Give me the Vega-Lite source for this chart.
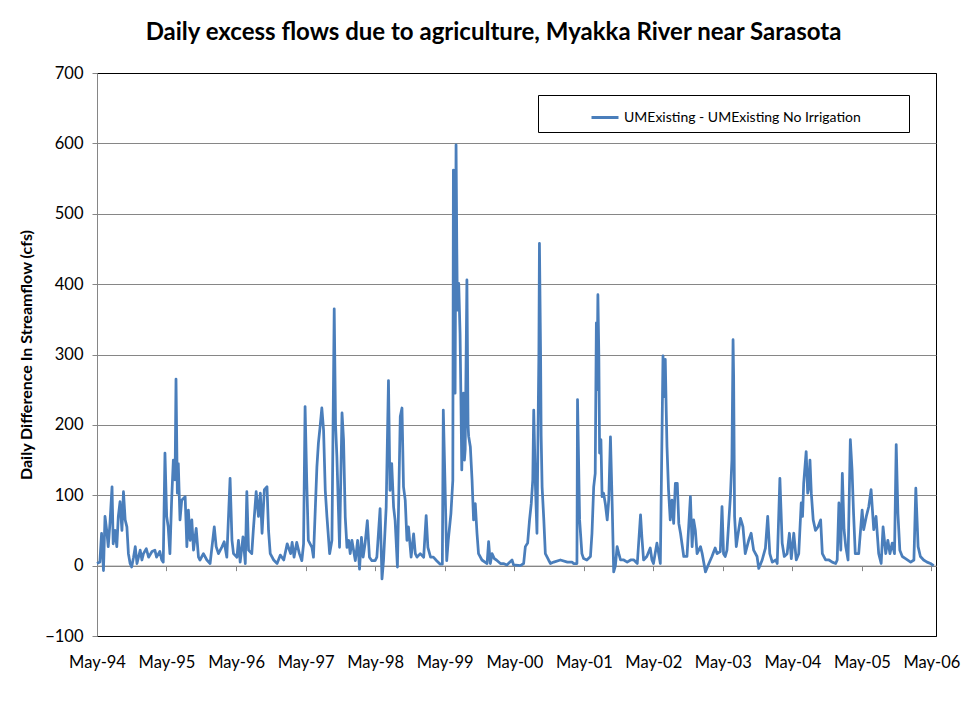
{
"$schema": "https://vega.github.io/schema/vega-lite/v6.json",
"width": 839, "height": 563,
"autosize": {"type": "none"},
"padding": {"left": 97, "top": 73, "right": 31, "bottom": 70},
"background": "white",
"config": {"font": "Lato", "view": {"stroke": "black", "strokeWidth": 1}},
"title": {"text": "Daily excess flows due to agriculture, Myakka River near Sarasota", "fontSize": 24, "fontWeight": "bold", "font": "Lato", "color": "black", "anchor": "middle", "dx": -23, "offset": 20},
"data": {"values": [
{"date":"1994-05-01","flow":3},{"date":"1994-05-16","flow":5},{"date":"1994-05-25","flow":46},{"date":"1994-06-04","flow":-7},{"date":"1994-06-12","flow":70},{"date":"1994-06-21","flow":50},{"date":"1994-06-29","flow":27},{"date":"1994-07-08","flow":60},{"date":"1994-07-19","flow":112},{"date":"1994-07-25","flow":31},{"date":"1994-08-04","flow":50},{"date":"1994-08-13","flow":27},{"date":"1994-08-21","flow":70},{"date":"1994-08-30","flow":91},{"date":"1994-09-09","flow":50},{"date":"1994-09-17","flow":105},{"date":"1994-09-26","flow":65},{"date":"1994-10-05","flow":55},{"date":"1994-10-13","flow":17},{"date":"1994-10-22","flow":3},{"date":"1994-10-30","flow":-2},{"date":"1994-11-09","flow":12},{"date":"1994-11-18","flow":27},{"date":"1994-11-27","flow":3},{"date":"1994-12-14","flow":22},{"date":"1994-12-23","flow":8},{"date":"1994-12-31","flow":17},
{"date":"1995-01-15","flow":24},{"date":"1995-01-27","flow":12},{"date":"1995-02-14","flow":20},{"date":"1995-03-01","flow":22},{"date":"1995-03-10","flow":12},{"date":"1995-03-27","flow":20},{"date":"1995-04-06","flow":8},{"date":"1995-04-14","flow":5},{"date":"1995-04-23","flow":160},{"date":"1995-05-02","flow":70},{"date":"1995-05-10","flow":55},{"date":"1995-05-19","flow":17},{"date":"1995-05-28","flow":93},{"date":"1995-06-06","flow":150},{"date":"1995-06-15","flow":122},{"date":"1995-06-20","flow":265},{"date":"1995-06-27","flow":103},{"date":"1995-07-02","flow":145},{"date":"1995-07-11","flow":65},{"date":"1995-07-20","flow":93},{"date":"1995-08-07","flow":98},{"date":"1995-08-16","flow":27},{"date":"1995-08-24","flow":79},{"date":"1995-09-02","flow":36},{"date":"1995-09-11","flow":65},{"date":"1995-09-20","flow":22},{"date":"1995-10-04","flow":53},{"date":"1995-10-16","flow":12},{"date":"1995-10-24","flow":8},{"date":"1995-11-11","flow":17},{"date":"1995-11-29","flow":8},{"date":"1995-12-16","flow":3},
{"date":"1996-01-07","flow":55},{"date":"1996-01-17","flow":27},{"date":"1996-01-29","flow":17},{"date":"1996-02-17","flow":27},{"date":"1996-02-28","flow":34},{"date":"1996-03-13","flow":12},{"date":"1996-03-30","flow":124},{"date":"1996-04-09","flow":36},{"date":"1996-04-17","flow":17},{"date":"1996-05-05","flow":12},{"date":"1996-05-13","flow":36},{"date":"1996-05-22","flow":5},{"date":"1996-06-06","flow":41},{"date":"1996-06-18","flow":3},{"date":"1996-06-26","flow":105},{"date":"1996-07-05","flow":22},{"date":"1996-07-22","flow":17},{"date":"1996-07-30","flow":50},{"date":"1996-08-14","flow":105},{"date":"1996-08-26","flow":70},{"date":"1996-09-05","flow":103},{"date":"1996-09-14","flow":46},{"date":"1996-09-26","flow":108},{"date":"1996-10-10","flow":112},{"date":"1996-10-18","flow":50},{"date":"1996-10-27","flow":17},{"date":"1996-11-14","flow":8},{"date":"1996-12-02","flow":3},{"date":"1996-12-19","flow":15},
{"date":"1997-01-06","flow":8},{"date":"1997-01-24","flow":31},{"date":"1997-02-11","flow":17},{"date":"1997-02-19","flow":33},{"date":"1997-03-01","flow":12},{"date":"1997-03-15","flow":33},{"date":"1997-03-29","flow":17},{"date":"1997-04-11","flow":7},{"date":"1997-04-20","flow":31},{"date":"1997-04-28","flow":226},{"date":"1997-05-07","flow":117},{"date":"1997-05-15","flow":36},{"date":"1997-06-03","flow":26},{"date":"1997-06-11","flow":12},{"date":"1997-06-29","flow":140},{"date":"1997-07-07","flow":174},{"date":"1997-07-16","flow":198},{"date":"1997-07-25","flow":224},{"date":"1997-08-03","flow":193},{"date":"1997-08-12","flow":107},{"date":"1997-08-21","flow":69},{"date":"1997-09-04","flow":17},{"date":"1997-09-16","flow":36},{"date":"1997-09-28","flow":365},{"date":"1997-10-05","flow":200},{"date":"1997-10-12","flow":155},{"date":"1997-10-26","flow":26},{"date":"1997-11-08","flow":217},{"date":"1997-11-16","flow":179},{"date":"1997-11-25","flow":69},{"date":"1997-12-04","flow":26},{"date":"1997-12-13","flow":36},{"date":"1997-12-21","flow":17},{"date":"1997-12-30","flow":36},
{"date":"1998-01-17","flow":7},{"date":"1998-01-29","flow":36},{"date":"1998-02-08","flow":-5},{"date":"1998-02-18","flow":40},{"date":"1998-02-27","flow":12},{"date":"1998-03-09","flow":31},{"date":"1998-03-21","flow":64},{"date":"1998-04-01","flow":12},{"date":"1998-04-14","flow":7},{"date":"1998-05-01","flow":7},{"date":"1998-05-10","flow":12},{"date":"1998-05-27","flow":81},{"date":"1998-06-06","flow":-19},{"date":"1998-06-14","flow":7},{"date":"1998-06-28","flow":83},{"date":"1998-07-10","flow":263},{"date":"1998-07-18","flow":107},{"date":"1998-07-27","flow":145},{"date":"1998-08-06","flow":83},{"date":"1998-08-14","flow":64},{"date":"1998-08-26","flow":-2},{"date":"1998-09-10","flow":212},{"date":"1998-09-19","flow":224},{"date":"1998-09-27","flow":112},{"date":"1998-10-06","flow":93},{"date":"1998-10-15","flow":36},{"date":"1998-10-23","flow":55},{"date":"1998-11-06","flow":12},{"date":"1998-11-19","flow":45},{"date":"1998-11-28","flow":17},{"date":"1998-12-07","flow":12},{"date":"1998-12-24","flow":17},
{"date":"1999-01-11","flow":12},{"date":"1999-01-24","flow":71},{"date":"1999-02-02","flow":26},{"date":"1999-02-16","flow":12},{"date":"1999-03-03","flow":12},{"date":"1999-03-20","flow":7},{"date":"1999-04-08","flow":2},{"date":"1999-04-19","flow":2},{"date":"1999-04-24","flow":221},{"date":"1999-05-03","flow":117},{"date":"1999-05-12","flow":7},{"date":"1999-05-20","flow":36},{"date":"1999-06-03","flow":74},{"date":"1999-06-13","flow":121},{"date":"1999-06-16","flow":562},{"date":"1999-06-21","flow":300},{"date":"1999-06-25","flow":245},{"date":"1999-06-30","flow":598},{"date":"1999-07-04","flow":450},{"date":"1999-07-07","flow":363},{"date":"1999-07-14","flow":401},{"date":"1999-07-21","flow":330},{"date":"1999-07-25","flow":250},{"date":"1999-07-30","flow":136},{"date":"1999-08-05","flow":220},{"date":"1999-08-08","flow":245},{"date":"1999-08-13","flow":150},{"date":"1999-08-17","flow":165},{"date":"1999-08-26","flow":406},{"date":"1999-09-01","flow":200},{"date":"1999-09-04","flow":184},{"date":"1999-09-13","flow":169},{"date":"1999-09-22","flow":122},{"date":"1999-09-30","flow":65},{"date":"1999-10-09","flow":88},{"date":"1999-10-18","flow":46},{"date":"1999-10-26","flow":17},{"date":"1999-11-13","flow":8},{"date":"1999-12-10","flow":3},{"date":"1999-12-18","flow":34},{"date":"1999-12-27","flow":3},
{"date":"2000-01-05","flow":17},{"date":"2000-01-17","flow":10},{"date":"2000-01-28","flow":8},{"date":"2000-02-18","flow":3},{"date":"2000-03-05","flow":3},{"date":"2000-03-23","flow":1},{"date":"2000-04-19","flow":8},{"date":"2000-04-27","flow":1},{"date":"2000-06-02","flow":0},{"date":"2000-06-19","flow":3},{"date":"2000-06-28","flow":27},{"date":"2000-07-10","flow":32},{"date":"2000-07-20","flow":65},{"date":"2000-07-29","flow":88},{"date":"2000-08-06","flow":122},{"date":"2000-08-11","flow":221},{"date":"2000-08-20","flow":113},{"date":"2000-08-28","flow":46},{"date":"2000-09-04","flow":226},{"date":"2000-09-07","flow":300},{"date":"2000-09-10","flow":458},{"date":"2000-09-16","flow":300},{"date":"2000-09-19","flow":184},{"date":"2000-09-24","flow":112},{"date":"2000-10-03","flow":65},{"date":"2000-10-11","flow":17},{"date":"2000-10-28","flow":8},{"date":"2000-11-07","flow":3},{"date":"2000-11-24","flow":5},{"date":"2000-12-29","flow":8},
{"date":"2001-02-04","flow":5},{"date":"2001-02-28","flow":5},{"date":"2001-03-08","flow":3},{"date":"2001-03-26","flow":3},{"date":"2001-03-29","flow":236},{"date":"2001-04-09","flow":65},{"date":"2001-04-21","flow":17},{"date":"2001-04-30","flow":10},{"date":"2001-05-17","flow":8},{"date":"2001-06-05","flow":13},{"date":"2001-06-13","flow":46},{"date":"2001-06-22","flow":112},{"date":"2001-06-30","flow":131},{"date":"2001-07-06","flow":345},{"date":"2001-07-09","flow":250},{"date":"2001-07-14","flow":385},{"date":"2001-07-19","flow":300},{"date":"2001-07-23","flow":160},{"date":"2001-07-30","flow":179},{"date":"2001-08-05","flow":98},{"date":"2001-08-13","flow":103},{"date":"2001-08-22","flow":88},{"date":"2001-09-01","flow":65},{"date":"2001-09-09","flow":93},{"date":"2001-09-18","flow":183},{"date":"2001-09-27","flow":88},{"date":"2001-10-05","flow":-9},{"date":"2001-10-14","flow":0},{"date":"2001-10-23","flow":27},{"date":"2001-11-01","flow":17},{"date":"2001-11-10","flow":8},{"date":"2001-11-27","flow":8},{"date":"2001-12-15","flow":5},
{"date":"2002-01-02","flow":8},{"date":"2002-01-19","flow":8},{"date":"2002-02-06","flow":3},{"date":"2002-02-23","flow":72},{"date":"2002-03-02","flow":41},{"date":"2002-03-11","flow":8},{"date":"2002-03-28","flow":13},{"date":"2002-04-15","flow":25},{"date":"2002-04-24","flow":8},{"date":"2002-05-02","flow":3},{"date":"2002-05-20","flow":32},{"date":"2002-06-07","flow":3},{"date":"2002-06-21","flow":298},{"date":"2002-06-28","flow":240},{"date":"2002-07-03","flow":293},{"date":"2002-07-08","flow":220},{"date":"2002-07-12","flow":169},{"date":"2002-07-20","flow":108},{"date":"2002-07-29","flow":65},{"date":"2002-08-07","flow":93},{"date":"2002-08-16","flow":60},{"date":"2002-08-25","flow":117},{"date":"2002-09-04","flow":117},{"date":"2002-09-12","flow":60},{"date":"2002-09-21","flow":46},{"date":"2002-10-08","flow":13},{"date":"2002-10-25","flow":13},{"date":"2002-11-12","flow":98},{"date":"2002-11-21","flow":27},{"date":"2002-11-29","flow":65},{"date":"2002-12-08","flow":50},{"date":"2002-12-17","flow":17},
{"date":"2003-01-04","flow":27},{"date":"2003-01-13","flow":17},{"date":"2003-01-30","flow":-9},{"date":"2003-02-17","flow":3},{"date":"2003-03-05","flow":13},{"date":"2003-03-22","flow":25},{"date":"2003-04-01","flow":17},{"date":"2003-04-18","flow":20},{"date":"2003-04-27","flow":84},{"date":"2003-05-05","flow":17},{"date":"2003-05-14","flow":13},{"date":"2003-05-23","flow":22},{"date":"2003-06-01","flow":60},{"date":"2003-06-10","flow":98},{"date":"2003-06-18","flow":150},{"date":"2003-06-24","flow":321},{"date":"2003-06-27","flow":270},{"date":"2003-07-02","flow":70},{"date":"2003-07-11","flow":27},{"date":"2003-07-18","flow":41},{"date":"2003-08-02","flow":67},{"date":"2003-08-10","flow":60},{"date":"2003-08-15","flow":55},{"date":"2003-08-27","flow":17},{"date":"2003-09-14","flow":36},{"date":"2003-09-27","flow":46},{"date":"2003-10-10","flow":22},{"date":"2003-10-28","flow":13},{"date":"2003-11-06","flow":-4},{"date":"2003-11-24","flow":8},{"date":"2003-12-11","flow":25},{"date":"2003-12-23","flow":70},
{"date":"2004-01-03","flow":17},{"date":"2004-01-16","flow":5},{"date":"2004-02-03","flow":8},{"date":"2004-02-11","flow":3},{"date":"2004-02-25","flow":124},{"date":"2004-03-08","flow":32},{"date":"2004-03-19","flow":13},{"date":"2004-04-03","flow":17},{"date":"2004-04-15","flow":46},{"date":"2004-04-25","flow":10},{"date":"2004-05-08","flow":46},{"date":"2004-05-21","flow":8},{"date":"2004-06-03","flow":17},{"date":"2004-06-16","flow":89},{"date":"2004-06-23","flow":70},{"date":"2004-06-29","flow":117},{"date":"2004-07-12","flow":162},{"date":"2004-07-20","flow":103},{"date":"2004-07-25","flow":110},{"date":"2004-08-01","flow":150},{"date":"2004-08-08","flow":103},{"date":"2004-08-18","flow":65},{"date":"2004-08-30","flow":50},{"date":"2004-09-12","flow":55},{"date":"2004-09-26","flow":65},{"date":"2004-10-05","flow":17},{"date":"2004-10-22","flow":8},{"date":"2004-11-09","flow":8},{"date":"2004-11-26","flow":5},{"date":"2004-12-14","flow":3},{"date":"2004-12-22","flow":8},{"date":"2004-12-31","flow":89},
{"date":"2005-01-10","flow":22},{"date":"2005-01-18","flow":131},{"date":"2005-01-27","flow":51},{"date":"2005-02-05","flow":27},{"date":"2005-02-17","flow":8},{"date":"2005-03-01","flow":179},{"date":"2005-03-10","flow":136},{"date":"2005-03-18","flow":74},{"date":"2005-03-27","flow":17},{"date":"2005-04-14","flow":17},{"date":"2005-05-02","flow":79},{"date":"2005-05-10","flow":51},{"date":"2005-05-24","flow":70},{"date":"2005-06-06","flow":84},{"date":"2005-06-18","flow":108},{"date":"2005-07-02","flow":51},{"date":"2005-07-14","flow":70},{"date":"2005-07-28","flow":17},{"date":"2005-08-10","flow":3},{"date":"2005-08-20","flow":55},{"date":"2005-09-03","flow":17},{"date":"2005-09-14","flow":36},{"date":"2005-09-25","flow":17},{"date":"2005-10-07","flow":32},{"date":"2005-10-19","flow":17},{"date":"2005-10-28","flow":172},{"date":"2005-11-06","flow":74},{"date":"2005-11-16","flow":22},{"date":"2005-11-29","flow":13},{"date":"2005-12-16","flow":10},
{"date":"2006-01-12","flow":5},{"date":"2006-01-29","flow":8},{"date":"2006-02-08","flow":110},{"date":"2006-02-20","flow":27},{"date":"2006-03-04","flow":13},{"date":"2006-03-21","flow":8},{"date":"2006-04-08","flow":5},{"date":"2006-04-26","flow":3},{"date":"2006-05-13","flow":0}
]},
"mark": {"type": "line", "strokeWidth": 2.75, "strokeJoin": "round"},
"encoding": {
 "x": {"field": "date", "type": "temporal",
  "scale": {"domain": [{"year": 1994, "month": 5, "date": 1}, {"year": 2006, "month": 5, "date": 25}], "nice": false},
  "axis": {"title": null, "format": "%b-%y", "grid": false,
   "values": [{"year":1994,"month":5,"date":1},{"year":1995,"month":5,"date":1},{"year":1996,"month":5,"date":1},{"year":1997,"month":5,"date":1},{"year":1998,"month":5,"date":1},{"year":1999,"month":5,"date":1},{"year":2000,"month":5,"date":1},{"year":2001,"month":5,"date":1},{"year":2002,"month":5,"date":1},{"year":2003,"month":5,"date":1},{"year":2004,"month":5,"date":1},{"year":2005,"month":5,"date":1},{"year":2006,"month":5,"date":1}],
   "offset": -70.375, "domainColor": "#868686", "tickColor": "#868686", "tickSize": 5, "labelPadding": 84, "labelFontSize": 16.5, "labelColor": "black", "labelFont": "Lato", "labelFlush": false, "labelOverlap": false}},
 "y": {"field": "flow", "type": "quantitative",
  "scale": {"domain": [-100, 700], "nice": false, "zero": false},
  "axis": {"title": "Daily Difference In Streamflow (cfs)", "values": [-100, 0, 100, 200, 300, 400, 500, 600, 700],
   "gridColor": {"condition": {"test": "datum.value == 700 || datum.value == -100", "value": "black"}, "value": "#868686"},
   "domainColor": "#868686", "tickColor": "#868686", "tickSize": 5, "labelPadding": 9, "labelFontSize": 16.5, "labelColor": "black", "labelFont": "Lato",
   "titleFontSize": 16, "titleFontWeight": "bold", "titleColor": "black", "titleFont": "Lato", "titlePadding": 10}},
 "color": {"datum": "UMExisting - UMExisting No Irrigation", "type": "nominal",
  "scale": {"range": ["#4a7ebb"]},
  "legend": {"title": null, "orient": "none", "legendX": 441, "legendY": 22, "strokeColor": "black", "fillColor": "white", "padding": 7.5,
   "symbolType": "stroke", "symbolStrokeWidth": 3, "symbolSize": 729, "symbolOffset": 44.5, "labelFontSize": 14, "labelFont": "Lato", "labelColor": "black", "labelOffset": 4,
   "labelLimit": 400, "labelExpr": "datum.label + '\u2800\u2800\u2800\u2800'"}}
}
}
